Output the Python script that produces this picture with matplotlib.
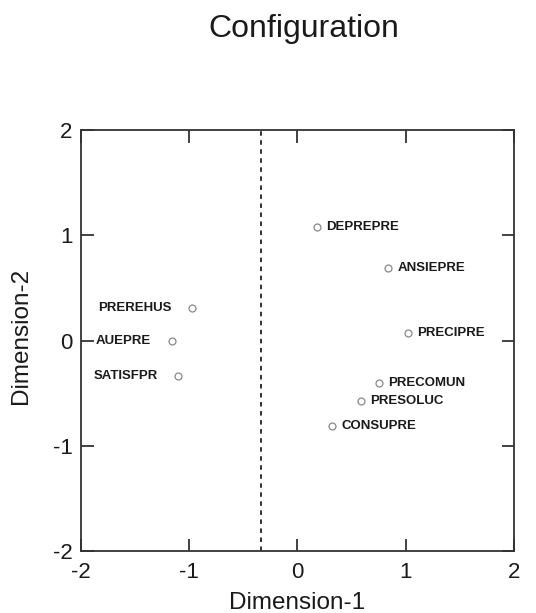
import numpy as np
import matplotlib
matplotlib.use('Agg')
import matplotlib.pyplot as plt

# MDS configuration
labels = ['DEPREPRE', 'ANSIEPRE', 'PRECIPRE', 'PRECOMUN', 'PRESOLUC', 'CONSUPRE',
          'PREREHUS', 'AUEPRE', 'SATISFPR']
dim1 = [0.18, 0.84, 1.02, 0.75, 0.59, 0.32, -0.97, -1.16, -1.10]
dim2 = [1.08, 0.69, 0.07, -0.40, -0.57, -0.81, 0.31, 0.00, -0.34]
ticks = [-2, -1, 0, 1, 2]
split_x = -0.34

plt.rcParams['font.family'] = ['Liberation Sans', 'DejaVu Sans']
plt.rcParams['axes.unicode_minus'] = False

fig = plt.figure(figsize=(5.36, 6.13), dpi=100)
ax = fig.add_axes([0.151, 0.101, 0.808, 0.687])

ax.plot(dim1, dim2, 'o', ms=5, mfc='white', mec='#888888', mew=0.9, zorder=3)
for lab, x, y in zip(labels, dim1, dim2):
    if x > 0:
        ax.annotate(lab, (x, y), xytext=(6.5, 0), textcoords='offset points',
                    ha='left', va='center', fontsize=9.5, fontweight='bold',
                    color='#1a1a1a')
    else:
        ax.annotate(lab, (x, y), xytext=(-15, 0), textcoords='offset points',
                    ha='right', va='center', fontsize=9.5, fontweight='bold',
                    color='#1a1a1a')

ax.axvline(split_x, color='#222222', lw=1.3, ls=(0, (2.5, 2.5)))

ax.set_xlim(-2, 2)
ax.set_ylim(-2, 2)
ax.set_xticks(ticks)
ax.set_yticks(ticks)
ax.tick_params(direction='in', length=9, width=1.3, top=True, right=True,
               labelsize=16, pad=8, color='#333333', labelcolor='#1a1a1a')
ax.tick_params(axis='y', pad=6)
for s in ax.spines.values():
    s.set_linewidth(1.3)
    s.set_color('#333333')

ax.set_xlabel('Dimension-1', fontsize=17.5, color='#1a1a1a')
ax.set_ylabel('Dimension-2', fontsize=17.5, color='#1a1a1a')
ax.xaxis.set_label_coords(0.5, -0.098)
ax.yaxis.set_label_coords(-0.113, 0.51)
fig.text(0.566, 0.952, 'Configuration', ha='center', va='center', fontsize=23,
         color='#1a1a1a')

fig.savefig('out.png', dpi=100)
